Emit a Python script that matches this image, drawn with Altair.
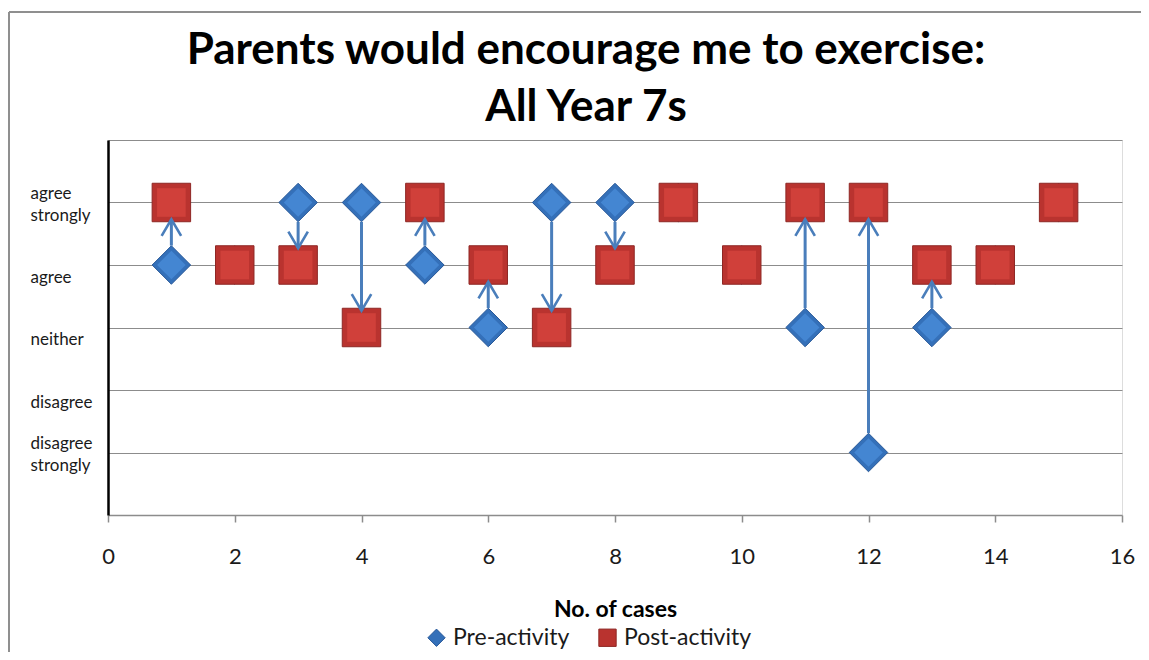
import altair as alt
import pandas as pd

# ---- data ----
cases = list(range(1, 16))
pre_activity = [4, 4, 5, 5, 4, 3, 5, 5, 5, 4, 3, 1, 3, 4, 5]
post_activity = [5, 4, 4, 3, 5, 4, 3, 4, 5, 4, 5, 5, 4, 4, 5]
series_names = ["Pre-activity", "Post-activity"]
level_values = [1, 2, 3, 4, 5]
level_labels = [["disagree", "strongly"], ["disagree"], ["neither"], ["agree"], ["agree", "strongly"]]
x_ticks = list(range(0, 17, 2))
grid_values = [1, 2, 3, 4, 5, 6]

FONT = "Lato"
BLUE_OUT = "#3470B9"
BLUE_IN = "#4486D2"
BLUE_DARK = "#285898"
RED_OUT = "#B9332F"
RED_IN = "#D0403A"
RED_DARK = "#8E2724"
ARROW = "#4A7EBB"
GRID = "#8C8C8C"

points = pd.DataFrame({
    "case": cases * 2,
    "response": pre_activity + post_activity,
    "series": [series_names[0]] * len(cases) + [series_names[1]] * len(cases),
})
arrows = pd.DataFrame({"case": cases, "pre": pre_activity, "post": post_activity})
arrows = arrows[arrows["pre"] != arrows["post"]].reset_index(drop=True)

def js_label(parts):
    if len(parts) == 1:
        return "'" + parts[0] + "'"
    return "[" + ",".join("'" + p + "'" for p in parts) + "]"

label_expr = "''"
for v, parts in zip(level_values, level_labels):
    label_expr = f"datum.value == {v} ? {js_label(parts)} : ({label_expr})"

x_scale = alt.Scale(domain=[0, 16], nice=False, zero=False)
y_scale = alt.Scale(domain=[0, 6], nice=False, zero=False)

x_axis = alt.Axis(
    values=x_ticks, format="d", grid=False, domainColor=GRID, domainWidth=1.5,
    tickColor=GRID, tickSize=7, tickWidth=1.5, labelPadding=24,
    labelFont=FONT, labelFontSize=22, labelColor="#1a1a1a", labelFlush=False,
    title="No. of cases", titleFont=FONT, titleFontSize=23, titleFontWeight="bold",
    titleColor="#000", titlePadding=31,
)
two_line = "datum.value == 5 || datum.value == 1"
y_axis = alt.Axis(
    values=grid_values, labelExpr=label_expr, grid=True, gridColor=GRID, gridWidth=1,
    domainColor="#000", domainWidth=2.5, ticks=False, labelAlign="left",
    labelPadding=78, labelFont=FONT, labelFontSize=17, labelColor="#1a1a1a",
    labelLineHeight=22, labelOverlap=False,
    labelBaseline={"condition": {"test": two_line, "value": "middle"}, "value": "top"},
    labelOffset={"condition": {"test": two_line, "value": -9}, "value": 4},
    title=None,
)

legend = alt.Legend(title=None, orient="none", direction="horizontal",
                    legendX=317, legendY=486, labelFont=FONT, labelFontSize=23,
                    labelColor="#1a1a1a", symbolSize=300, columnPadding=26,
                    labelOffset=5, symbolStrokeWidth=1)

shape_scale = alt.Scale(domain=series_names, range=["diamond", "square"])
color_scale = alt.Scale(domain=series_names, range=[BLUE_OUT, RED_OUT])
stroke_scale = alt.Scale(domain=series_names, range=[BLUE_DARK, RED_DARK])

base_pts = alt.Chart(points)

def outer(name):
    return base_pts.transform_filter(alt.datum.series == name).mark_point(
        filled=True, opacity=1, strokeWidth=1, size=1480).encode(
        x=alt.X("case:Q", scale=x_scale, axis=x_axis),
        y=alt.Y("response:Q", scale=y_scale, axis=y_axis),
        shape=alt.Shape("series:N", scale=shape_scale, legend=legend),
        color=alt.Color("series:N", scale=color_scale, legend=legend),
        stroke=alt.Stroke("series:N", scale=stroke_scale, legend=legend),
    )

def inner(name, inner_color):
    return base_pts.transform_filter(alt.datum.series == name).mark_point(
        filled=True, opacity=1, strokeWidth=0, size=820, color=inner_color).encode(
        x=alt.X("case:Q", scale=x_scale),
        y=alt.Y("response:Q", scale=y_scale),
        shape=alt.Shape("series:N", scale=shape_scale, legend=legend),
    )

arrow_base = alt.Chart(arrows).transform_calculate(
    dir="datum.post > datum.pre ? 1 : -1"
).transform_calculate(
    start="datum.pre + datum.dir * 0.31",
    tip="datum.post - datum.dir * 0.27",
    ang="datum.dir > 0 ? 0 : 180",
)
shafts = arrow_base.mark_rule(color=ARROW, strokeWidth=3).encode(
    x=alt.X("case:Q", scale=x_scale),
    y=alt.Y("start:Q", scale=y_scale),
    y2="tip:Q",
)
heads = arrow_base.mark_point(shape="M-1,1.7L0,0L1,1.7", filled=False, color=ARROW,
                              strokeWidth=2.6, size=380, opacity=1).encode(
    x=alt.X("case:Q", scale=x_scale),
    y=alt.Y("tip:Q", scale=y_scale),
    angle=alt.Angle("ang:Q", scale=None),
)

frame_df = pd.DataFrame({"k": [0]})
frame_top = alt.Chart(frame_df).mark_rule(color="#8F8F8F", strokeWidth=2).encode(
    x=alt.value(-99), x2=alt.value(1060), y=alt.value(-128))
frame_left = alt.Chart(frame_df).mark_rule(color="#8F8F8F", strokeWidth=2).encode(
    x=alt.value(-99), y=alt.value(-128), y2=alt.value(530))

chart = alt.layer(
    frame_top, frame_left,
    outer(series_names[0]), inner(series_names[0], BLUE_IN),
    outer(series_names[1]), inner(series_names[1], RED_IN),
    shafts, heads,
).properties(
    width=1014, height=375,
    padding={"left": 100, "top": 132, "right": 19, "bottom": 137},
    autosize=alt.AutoSizeParams(type="none"),
    title=alt.TitleParams(
        text=["Parents would encourage me to exercise:", "All Year 7s"],
        font=FONT, fontSize=44, fontWeight="bold", color="#000",
        lineHeight=57, anchor="middle", offset=-119, dx=-29,
    ),
).configure_view(stroke=None).configure(background="white")

chart.save("out.html", embed_options={"renderer": "svg", "actions": False})
